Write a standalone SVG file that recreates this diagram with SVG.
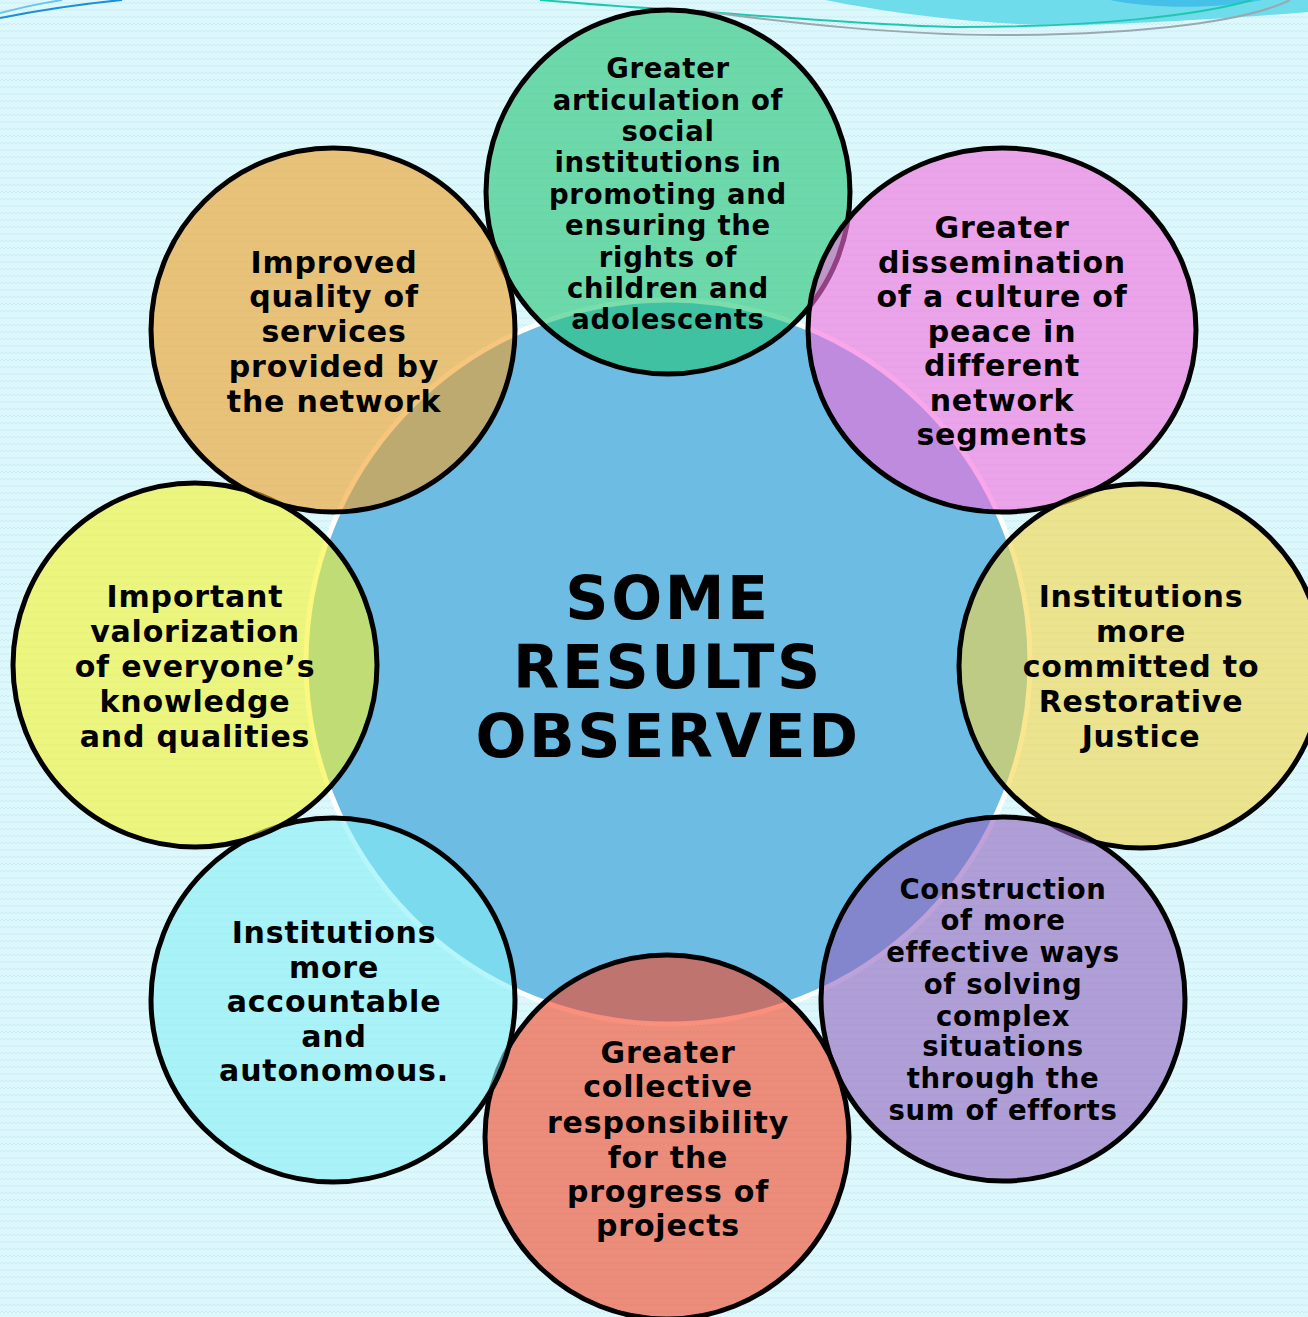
<svg xmlns="http://www.w3.org/2000/svg" width="1308" height="1317" viewBox="0 0 1308 1317">
<defs>
<pattern id="zig" width="8" height="7" patternUnits="userSpaceOnUse">
<polyline points="0,4 2,2 4,4 6,2 8,4" fill="none" stroke="#cbeef3" stroke-width="1"/>
</pattern>
<style>
.sat{stroke:#000;stroke-width:5;fill-opacity:0.6}
.lbl{font-family:"DejaVu Sans","Verdana",sans-serif;font-weight:bold;fill:#000;text-anchor:middle}
.big{font-size:30px;letter-spacing:0.8px}
.small{font-size:27.5px;letter-spacing:0.7px}
.title{font-size:60px;letter-spacing:2.6px}
</style>
</defs>
<rect width="1308" height="1317" fill="#dcf8fc"/>
<rect width="1308" height="1317" fill="url(#zig)"/>
<g id="decoration">
<path d="M825,0 C900,15 1000,27 1083,25 C1180,22 1260,16 1308,12 L1308,0 Z" fill="#6fdcec"/>
<path d="M1110,0 C1150,9 1220,9 1262,0 Z" fill="#45c0e8"/>
<path d="M0,18 Q60,6 122,0" fill="none" stroke="#1e8fd6" stroke-width="2"/>
<path d="M0,13 Q30,5 62,0" fill="none" stroke="#6cc6ea" stroke-width="2"/>
<path d="M540,0 C600,5 640,8 667,9 C760,16 900,27 960,27 C1100,27 1200,15 1252,0" fill="none" stroke="#1ec8b0" stroke-width="2"/>
<path d="M700,11 C800,24 900,35 1000,35 C1150,35 1250,20 1290,0" fill="none" stroke="#9aa8b0" stroke-width="2"/>
</g>
<g id="center">
<circle cx="668" cy="662" r="362" fill="#6cbce4" stroke="#ffffff" stroke-width="5"/>
<text class="lbl title" x="668"><tspan x="668" y="619">SOME</tspan><tspan x="668" y="688">RESULTS</tspan><tspan x="668" y="757">OBSERVED</tspan></text>
</g>
<g id="node-articulation">
<circle class="sat" cx="668" cy="192" r="182" fill="#23c575"/>
<text class="lbl small"><tspan x="668" y="78">Greater</tspan><tspan x="668" y="110">articulation of</tspan><tspan x="668" y="141">social</tspan><tspan x="668" y="172">institutions in</tspan><tspan x="668" y="204">promoting and</tspan><tspan x="668" y="235">ensuring the</tspan><tspan x="668" y="267">rights of</tspan><tspan x="668" y="298">children and</tspan><tspan x="668" y="329">adolescents</tspan></text>
</g>
<g id="node-peace">
<ellipse class="sat" cx="1002" cy="330" rx="194" ry="182" fill="#f56bdc"/>
<text class="lbl big"><tspan x="1002" y="238">Greater</tspan><tspan x="1002" y="273">dissemination</tspan><tspan x="1002" y="307">of a culture of</tspan><tspan x="1002" y="342">peace in</tspan><tspan x="1002" y="376">different</tspan><tspan x="1002" y="411">network</tspan><tspan x="1002" y="445">segments</tspan></text>
</g>
<g id="node-restorative">
<circle class="sat" cx="1141" cy="666" r="182" fill="#f5d545"/>
<text class="lbl big"><tspan x="1141" y="607">Institutions</tspan><tspan x="1141" y="642">more</tspan><tspan x="1141" y="677">committed to</tspan><tspan x="1141" y="712">Restorative</tspan><tspan x="1141" y="747">Justice</tspan></text>
</g>
<g id="node-construction">
<circle class="sat" cx="1003" cy="999" r="182" fill="#9362be"/>
<text class="lbl small"><tspan x="1003" y="899">Construction</tspan><tspan x="1003" y="930">of more</tspan><tspan x="1003" y="962">effective ways</tspan><tspan x="1003" y="994">of solving</tspan><tspan x="1003" y="1026">complex</tspan><tspan x="1003" y="1056">situations</tspan><tspan x="1003" y="1088">through the</tspan><tspan x="1003" y="1120">sum of efforts</tspan></text>
</g>
<g id="node-responsibility">
<circle class="sat" cx="667" cy="1137" r="182" fill="#f74423"/>
<text class="lbl big"><tspan x="668" y="1063">Greater</tspan><tspan x="668" y="1097">collective</tspan><tspan x="668" y="1133">responsibility</tspan><tspan x="668" y="1168">for the</tspan><tspan x="668" y="1202">progress of</tspan><tspan x="668" y="1236">projects</tspan></text>
</g>
<g id="node-accountable">
<circle class="sat" cx="333" cy="1000" r="182" fill="#85eef5"/>
<text class="lbl big"><tspan x="334" y="943">Institutions</tspan><tspan x="334" y="978">more</tspan><tspan x="334" y="1012">accountable</tspan><tspan x="334" y="1047">and</tspan><tspan x="334" y="1081">autonomous.</tspan></text>
</g>
<g id="node-valorization">
<circle class="sat" cx="195" cy="665" r="182" fill="#f7f32a"/>
<text class="lbl big"><tspan x="195" y="607">Important</tspan><tspan x="195" y="642">valorization</tspan><tspan x="195" y="677">of everyone’s</tspan><tspan x="195" y="712">knowledge</tspan><tspan x="195" y="747">and qualities</tspan></text>
</g>
<g id="node-quality">
<circle class="sat" cx="333" cy="330" r="182" fill="#f29e23"/>
<text class="lbl big"><tspan x="334" y="273">Improved</tspan><tspan x="334" y="307">quality of</tspan><tspan x="334" y="342">services</tspan><tspan x="334" y="377">provided by</tspan><tspan x="334" y="412">the network</tspan></text>
</g>
</svg>
